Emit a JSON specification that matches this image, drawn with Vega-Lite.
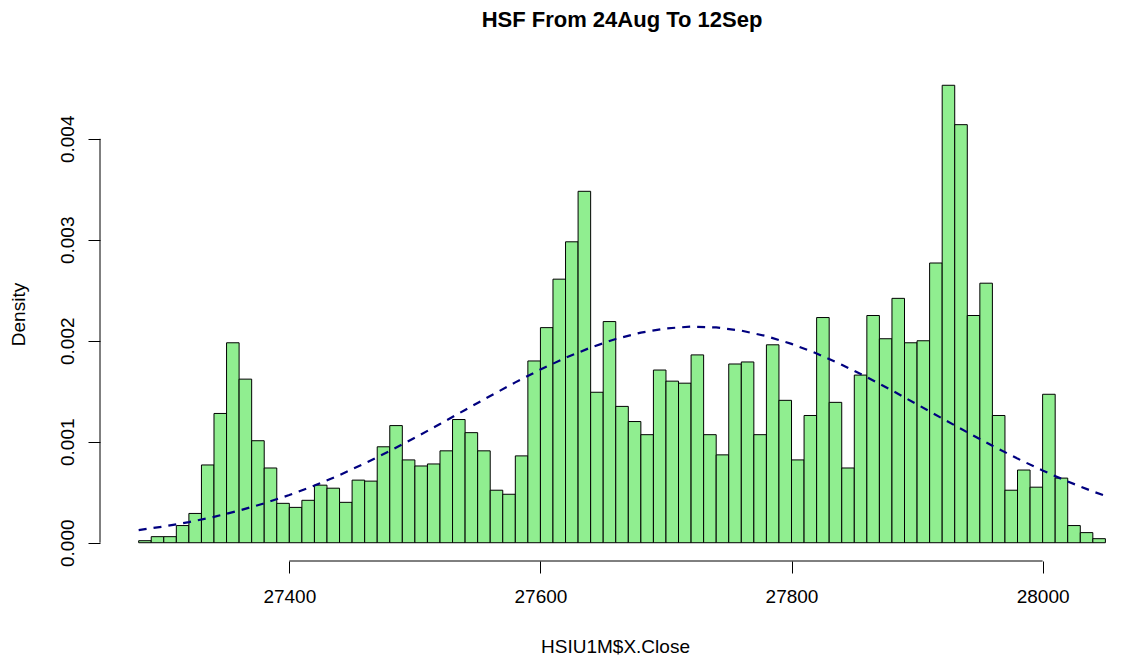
{
  "$schema": "https://vega.github.io/schema/vega-lite/v6.json",
  "autosize": {"type": "none"},
  "padding": {"left": 100, "top": 67, "right": 0, "bottom": 104},
  "width": 1030,
  "height": 494,
  "background": "white",
  "config": {
    "view": {"stroke": null},
    "font": "Liberation Sans",
    "axis": {"labelFont": "Liberation Sans", "titleFont": "Liberation Sans", "labelColor": "black", "titleColor": "black", "tickColor": "black", "grid": false, "domain": false, "titleFontWeight": "normal"}
  },
  "title": {
    "text": "HSF From 24Aug To 12Sep",
    "font": "Liberation Sans",
    "fontSize": 22,
    "fontWeight": "bold",
    "color": "black",
    "anchor": "middle",
    "frame": "group",
    "baseline": "alphabetic",
    "offset": 18,
    "dx": 7
  },
  "datasets": {
    "bins": [
      {"start": 27280, "end": 27290, "density": 0.00002},
      {"start": 27290, "end": 27300, "density": 0.00006},
      {"start": 27300, "end": 27310, "density": 0.00006},
      {"start": 27310, "end": 27320, "density": 0.00017},
      {"start": 27320, "end": 27330, "density": 0.00029},
      {"start": 27330, "end": 27340, "density": 0.00077},
      {"start": 27340, "end": 27350, "density": 0.00128},
      {"start": 27350, "end": 27360, "density": 0.00198},
      {"start": 27360, "end": 27370, "density": 0.00162},
      {"start": 27370, "end": 27380, "density": 0.00101},
      {"start": 27380, "end": 27390, "density": 0.00074},
      {"start": 27390, "end": 27400, "density": 0.00039},
      {"start": 27400, "end": 27410, "density": 0.00035},
      {"start": 27410, "end": 27420, "density": 0.00042},
      {"start": 27420, "end": 27430, "density": 0.00057},
      {"start": 27430, "end": 27440, "density": 0.00054},
      {"start": 27440, "end": 27450, "density": 0.0004},
      {"start": 27450, "end": 27460, "density": 0.00062},
      {"start": 27460, "end": 27470, "density": 0.00061},
      {"start": 27470, "end": 27480, "density": 0.00095},
      {"start": 27480, "end": 27490, "density": 0.00116},
      {"start": 27490, "end": 27500, "density": 0.00082},
      {"start": 27500, "end": 27510, "density": 0.00076},
      {"start": 27510, "end": 27520, "density": 0.00078},
      {"start": 27520, "end": 27530, "density": 0.00091},
      {"start": 27530, "end": 27540, "density": 0.00122},
      {"start": 27540, "end": 27550, "density": 0.00109},
      {"start": 27550, "end": 27560, "density": 0.00091},
      {"start": 27560, "end": 27570, "density": 0.00052},
      {"start": 27570, "end": 27580, "density": 0.00048},
      {"start": 27580, "end": 27590, "density": 0.00086},
      {"start": 27590, "end": 27600, "density": 0.0018},
      {"start": 27600, "end": 27610, "density": 0.00213},
      {"start": 27610, "end": 27620, "density": 0.00261},
      {"start": 27620, "end": 27630, "density": 0.00298},
      {"start": 27630, "end": 27640, "density": 0.00348},
      {"start": 27640, "end": 27650, "density": 0.00149},
      {"start": 27650, "end": 27660, "density": 0.00219},
      {"start": 27660, "end": 27670, "density": 0.00135},
      {"start": 27670, "end": 27680, "density": 0.0012},
      {"start": 27680, "end": 27690, "density": 0.00107},
      {"start": 27690, "end": 27700, "density": 0.00171},
      {"start": 27700, "end": 27710, "density": 0.0016},
      {"start": 27710, "end": 27720, "density": 0.00158},
      {"start": 27720, "end": 27730, "density": 0.00186},
      {"start": 27730, "end": 27740, "density": 0.00107},
      {"start": 27740, "end": 27750, "density": 0.00087},
      {"start": 27750, "end": 27760, "density": 0.00177},
      {"start": 27760, "end": 27770, "density": 0.00179},
      {"start": 27770, "end": 27780, "density": 0.00107},
      {"start": 27780, "end": 27790, "density": 0.00196},
      {"start": 27790, "end": 27800, "density": 0.00141},
      {"start": 27800, "end": 27810, "density": 0.00082},
      {"start": 27810, "end": 27820, "density": 0.00126},
      {"start": 27820, "end": 27830, "density": 0.00223},
      {"start": 27830, "end": 27840, "density": 0.00139},
      {"start": 27840, "end": 27850, "density": 0.00074},
      {"start": 27850, "end": 27860, "density": 0.00166},
      {"start": 27860, "end": 27870, "density": 0.00225},
      {"start": 27870, "end": 27880, "density": 0.00202},
      {"start": 27880, "end": 27890, "density": 0.00242},
      {"start": 27890, "end": 27900, "density": 0.00198},
      {"start": 27900, "end": 27910, "density": 0.002},
      {"start": 27910, "end": 27920, "density": 0.00277},
      {"start": 27920, "end": 27930, "density": 0.00453},
      {"start": 27930, "end": 27940, "density": 0.00414},
      {"start": 27940, "end": 27950, "density": 0.00225},
      {"start": 27950, "end": 27960, "density": 0.00257},
      {"start": 27960, "end": 27970, "density": 0.00126},
      {"start": 27970, "end": 27980, "density": 0.00052},
      {"start": 27980, "end": 27990, "density": 0.00072},
      {"start": 27990, "end": 28000, "density": 0.00055},
      {"start": 28000, "end": 28010, "density": 0.00147},
      {"start": 28010, "end": 28020, "density": 0.00064},
      {"start": 28020, "end": 28030, "density": 0.00017},
      {"start": 28030, "end": 28040, "density": 0.0001},
      {"start": 28040, "end": 28050, "density": 0.00004}
    ],
    "curve": [
      {"x": 27280, "y": 0.000125},
      {"x": 27300, "y": 0.000161},
      {"x": 27320, "y": 0.000204},
      {"x": 27340, "y": 0.000256},
      {"x": 27360, "y": 0.000318},
      {"x": 27380, "y": 0.00039},
      {"x": 27400, "y": 0.000472},
      {"x": 27420, "y": 0.000566},
      {"x": 27440, "y": 0.00067},
      {"x": 27460, "y": 0.000785},
      {"x": 27480, "y": 0.000908},
      {"x": 27500, "y": 0.001039},
      {"x": 27520, "y": 0.001176},
      {"x": 27540, "y": 0.001315},
      {"x": 27560, "y": 0.001453},
      {"x": 27580, "y": 0.001588},
      {"x": 27600, "y": 0.001715},
      {"x": 27620, "y": 0.001831},
      {"x": 27640, "y": 0.001933},
      {"x": 27660, "y": 0.002018},
      {"x": 27680, "y": 0.002081},
      {"x": 27700, "y": 0.002122},
      {"x": 27720, "y": 0.00214},
      {"x": 27740, "y": 0.002132},
      {"x": 27760, "y": 0.0021},
      {"x": 27780, "y": 0.002046},
      {"x": 27800, "y": 0.001969},
      {"x": 27820, "y": 0.001874},
      {"x": 27840, "y": 0.001763},
      {"x": 27860, "y": 0.00164},
      {"x": 27880, "y": 0.001508},
      {"x": 27900, "y": 0.00137},
      {"x": 27920, "y": 0.001231},
      {"x": 27940, "y": 0.001094},
      {"x": 27960, "y": 0.00096},
      {"x": 27980, "y": 0.000833},
      {"x": 28000, "y": 0.000715},
      {"x": 28020, "y": 0.000606},
      {"x": 28040, "y": 0.000508},
      {"x": 28050, "y": 0.000464}
    ]
  },
  "layer": [
    {
      "data": {"name": "bins"},
      "mark": {"type": "rect", "fill": "#90EE90", "stroke": "black", "strokeWidth": 1},
      "encoding": {
        "x": {
          "field": "start", "type": "quantitative",
          "scale": {"domain": [27249.2, 28069.6], "nice": false, "zero": false},
          "axis": {
            "title": "HSIU1M$X.Close",
            "values": [27400, 27600, 27800, 28000],
            "format": "d",
            "labelFontSize": 19,
            "titleFontSize": 19,
            "tickSize": 12,
            "tickWidth": 1,
            "labelPadding": 14,
            "labelFlush": false,
            "titleBaseline": "alphabetic",
            "titleY": 91
          }
        },
        "x2": {"field": "end"},
        "y": {
          "field": "density", "type": "quantitative",
          "scale": {"domain": [-0.000181, 0.004711], "nice": false, "zero": false},
          "axis": {
            "title": "Density",
            "values": [0, 0.001, 0.002, 0.003, 0.004],
            "format": ".3f",
            "labelFontSize": 19,
            "titleFontSize": 19,
            "tickSize": 12,
            "tickWidth": 1,
            "labelAngle": -90,
            "labelAlign": "center",
            "labelBaseline": "alphabetic",
            "labelPadding": 15,
            "labelFlush": false,
            "titleAngle": -90,
            "titleBaseline": "alphabetic",
            "titleX": -76,
            "titleY": 247
          }
        },
        "y2": {"datum": 0}
      }
    },
    {
      "data": {"name": "curve"},
      "mark": {"type": "line", "color": "#00007F", "strokeWidth": 2.2, "strokeDash": [8, 7]},
      "encoding": {
        "x": {"field": "x", "type": "quantitative"},
        "y": {"field": "y", "type": "quantitative"}
      }
    },
    {
      "data": {"values": [{}]},
      "mark": {"type": "rule", "color": "black", "strokeWidth": 1},
      "encoding": {
        "x": {"datum": 27400},
        "x2": {"datum": 28000},
        "y": {"datum": -0.000181}
      }
    },
    {
      "data": {"values": [{}]},
      "mark": {"type": "rule", "color": "black", "strokeWidth": 1},
      "encoding": {
        "x": {"datum": 27249.2},
        "y": {"datum": 0},
        "y2": {"datum": 0.004}
      }
    }
  ]
}
